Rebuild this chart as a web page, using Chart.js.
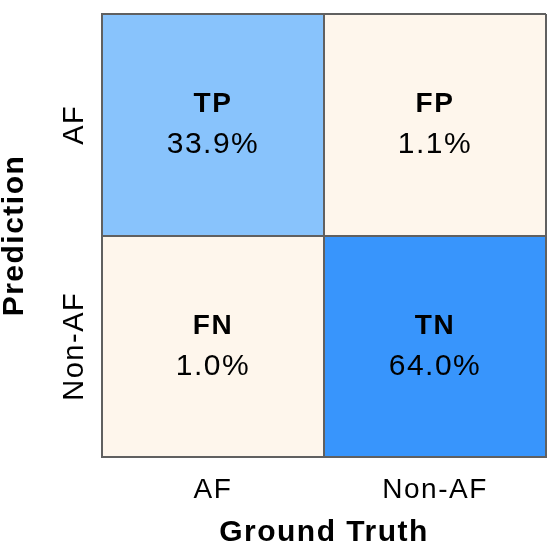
<!DOCTYPE html>
<html>
<head>
<meta charset="utf-8">
<script src="https://cdn.jsdelivr.net/npm/chart.js@4.4.1/dist/chart.umd.min.js"></script>
<style>
  html, body { margin: 0; padding: 0; background: #ffffff; }
  #wrap { width: 552px; height: 552px; position: relative; }
</style>
</head>
<body>
<div id="wrap"><canvas id="c" width="552" height="552"></canvas></div>
<script>
// ---- data ----
const groundTruthLabels = ['AF', 'Non-AF'];          // x axis (columns)
const predictionLabels = ['AF', 'Non-AF'];           // y axis (rows, top to bottom)
const rowAFNames = ['TP', 'FP'];
const rowNonAFNames = ['FN', 'TN'];
const rowAFValues = [33.9, 1.1];                     // percent
const rowNonAFValues = [1.0, 64.0];                  // percent

// ---- style ----
const FONT = "'Liberation Sans', Arial, Helvetica, sans-serif";
const GRID = '#606060';
function cellColor(v) {
  if (v > 50) return '#3895fc';
  if (v > 10) return '#88c3fc';
  return '#fef6ec';
}

// rows as floating bars on a linear 0..2 value axis (top row = 1..2)
const rows = [
  { names: rowAFNames, values: rowAFValues, span: [1, 2] },
  { names: rowNonAFNames, values: rowNonAFValues, span: [0, 1] }
];

const datasets = rows.map((r, i) => ({
  label: predictionLabels[i],
  data: r.values.map(() => r.span),
  cellValues: r.values,
  cellNames: r.names,
  backgroundColor: r.values.map(cellColor),
  borderWidth: 0,
  barPercentage: 1,
  categoryPercentage: 1,
  grouped: false
}));

const spacingPlugin = {
  id: 'spacing',
  beforeUpdate(chart) { chart.ctx.letterSpacing = '1.5px'; },
  beforeDraw(chart) { chart.ctx.letterSpacing = '1.5px'; }
};

const cellTextPlugin = {
  id: 'cellText',
  afterDraw(chart) {
    const ctx = chart.ctx;
    const xs = chart.scales.x, ys = chart.scales.y;
    ctx.save();
    ctx.letterSpacing = '1.5px';
    ctx.fillStyle = '#000000';
    ctx.textAlign = 'center';
    ctx.textBaseline = 'middle';
    chart.data.datasets.forEach(ds => {
      ds.data.forEach((span, j) => {
        const cx = xs.getPixelForValue(j);
        const cy = ys.getPixelForValue((span[0] + span[1]) / 2);
        ctx.font = 'bold 28px ' + FONT;
        ctx.fillText(ds.cellNames[j], cx, cy - 20);
        ctx.font = '30px ' + FONT;
        ctx.fillText(ds.cellValues[j].toFixed(1) + '%', cx, cy + 20);
      });
    });
    ctx.restore();
  }
};

new Chart(document.getElementById('c'), {
  type: 'bar',
  data: { labels: groundTruthLabels, datasets },
  plugins: [spacingPlugin, cellTextPlugin],
  options: {
    responsive: false,
    animation: false,
    layout: { padding: { top: 14, right: 6, left: 0, bottom: 0 } },
    plugins: { legend: { display: false }, tooltip: { enabled: false } },
    scales: {
      x: {
        type: 'category',
        offset: true,
        grid: { offset: true, color: GRID, lineWidth: 2, drawTicks: false, z: 1 },
        border: { display: true, color: GRID, width: 2, z: 2 },
        ticks: { color: '#000', font: { family: FONT, size: 28 }, padding: 16 },
        title: { display: true, text: 'Ground Truth', color: '#000',
                 font: { family: FONT, size: 30, weight: 'bold', lineHeight: 1 }, padding: { top: 0, bottom: 4 } },
        afterFit(s) { s.height = 95; }
      },
      y: {
        type: 'linear',
        min: 0, max: 2,
        grid: {
          color: (c) => (c.tick && Number.isInteger(c.tick.value)) ? GRID : 'rgba(0,0,0,0)',
          lineWidth: 2, drawTicks: false, z: 1
        },
        border: { display: true, color: GRID, width: 2, z: 2 },
        ticks: {
          stepSize: 0.5,
          autoSkip: false,
          minRotation: 90, maxRotation: 90,
          crossAlign: 'center',
          padding: -27,
          color: '#000',
          font: { family: FONT, size: 29 },
          callback(v) {
            if (v === 1.5) return predictionLabels[0];
            if (v === 0.5) return predictionLabels[1];
            return '';
          }
        },
        title: { display: true, text: 'Prediction', color: '#000',
                 font: { family: FONT, size: 30, weight: 'bold', lineHeight: 1 }, padding: 0 },
        afterFit(s) { s.width = 102; }
      }
    }
  }
});
</script>
</body>
</html>
